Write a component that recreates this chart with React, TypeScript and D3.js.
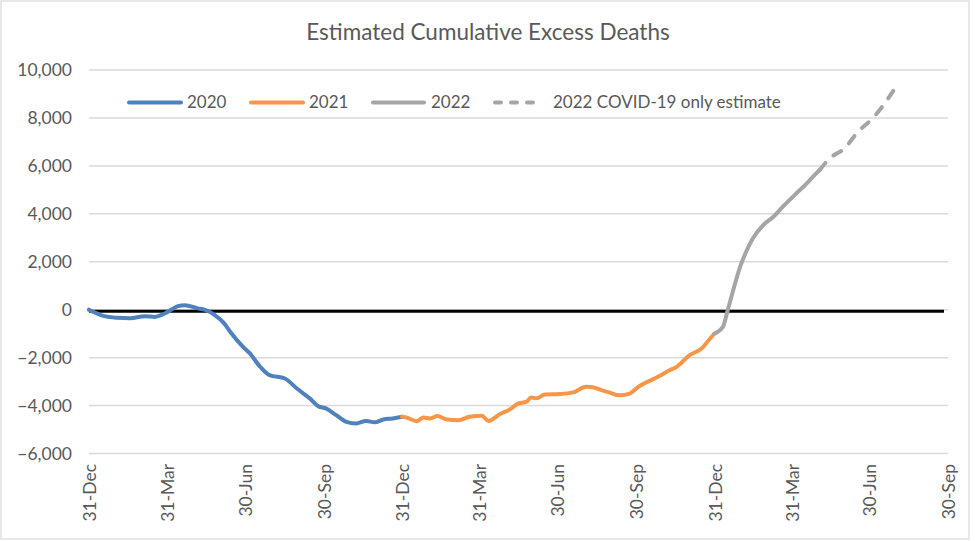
import React, { useEffect } from "react";
import * as d3 from "d3";

// values, [date, cumulative excess deaths]
const series2020: [string, number][] = [
  ["2019-12-31", 0],
  ["2020-01-18", -270],
  ["2020-02-02", -340],
  ["2020-02-17", -360],
  ["2020-03-05", -270],
  ["2020-03-17", -300],
  ["2020-03-29", -150],
  ["2020-04-13", 150],
  ["2020-04-21", 190],
  ["2020-05-06", 55],
  ["2020-05-14", 0],
  ["2020-05-26", -225],
  ["2020-06-06", -570],
  ["2020-06-13", -920],
  ["2020-06-28", -1550],
  ["2020-07-06", -1825],
  ["2020-07-18", -2380],
  ["2020-07-29", -2730],
  ["2020-08-16", -2870],
  ["2020-08-30", -3290],
  ["2020-09-14", -3700],
  ["2020-09-24", -4025],
  ["2020-10-03", -4120],
  ["2020-10-15", -4400],
  ["2020-10-27", -4680],
  ["2020-11-07", -4750],
  ["2020-11-19", -4640],
  ["2020-11-29", -4700],
  ["2020-12-09", -4580],
  ["2020-12-20", -4540],
  ["2020-12-31", -4470],
];

const series2021: [string, number][] = [
  ["2020-12-31", -4470],
  ["2021-01-05", -4500],
  ["2021-01-17", -4650],
  ["2021-01-25", -4500],
  ["2021-02-02", -4540],
  ["2021-02-10", -4440],
  ["2021-02-21", -4580],
  ["2021-03-07", -4610],
  ["2021-03-20", -4470],
  ["2021-04-03", -4430],
  ["2021-04-11", -4640],
  ["2021-04-24", -4360],
  ["2021-05-06", -4160],
  ["2021-05-16", -3910],
  ["2021-05-25", -3850],
  ["2021-05-31", -3660],
  ["2021-06-06", -3700],
  ["2021-06-16", -3540],
  ["2021-07-03", -3520],
  ["2021-07-19", -3450],
  ["2021-08-03", -3220],
  ["2021-08-11", -3240],
  ["2021-08-19", -3330],
  ["2021-08-30", -3450],
  ["2021-09-11", -3570],
  ["2021-09-23", -3500],
  ["2021-10-03", -3220],
  ["2021-10-12", -3040],
  ["2021-10-26", -2800],
  ["2021-11-09", -2520],
  ["2021-11-17", -2380],
  ["2021-12-02", -1900],
  ["2021-12-16", -1620],
  ["2021-12-26", -1200],
  ["2021-12-31", -1000],
];

const series2022: [string, number][] = [
  ["2021-12-31", -1000],
  ["2022-01-10", -710],
  ["2022-01-15", -90],
  ["2022-01-22", 820],
  ["2022-01-30", 1790],
  ["2022-02-07", 2490],
  ["2022-02-14", 2980],
  ["2022-02-26", 3530],
  ["2022-03-10", 3880],
  ["2022-03-21", 4300],
  ["2022-04-06", 4860],
  ["2022-04-14", 5130],
  ["2022-04-29", 5690],
  ["2022-05-03", 5830],
];

const seriesEstimate: [string, number][] = [
  ["2022-05-03", 5830],
  ["2022-05-15", 6320],
  ["2022-06-01", 6730],
  ["2022-06-17", 7430],
  ["2022-07-04", 7990],
  ["2022-07-18", 8610],
  ["2022-07-30", 9240],
];

const xTicks = [
  "2019-12-31", "2020-03-31", "2020-06-30", "2020-09-30",
  "2020-12-31", "2021-03-31", "2021-06-30", "2021-09-30",
  "2021-12-31", "2022-03-31", "2022-06-30", "2022-09-30",
];
const yTicks = [-6000, -4000, -2000, 0, 2000, 4000, 6000, 8000, 10000];

const legendItems = [
  { label: "2020", color: "#4F81BD", dashed: false },
  { label: "2021", color: "#F79646", dashed: false },
  { label: "2022", color: "#A5A5A5", dashed: false },
  { label: "2022 COVID-19 only estimate", color: "#A5A5A5", dashed: true },
];

const W = 976;
const H = 541;
const FONT = "Lato, 'Open Sans', sans-serif";
const TEXT = "#595959";

const parse = d3.timeParse("%Y-%m-%d");

export default function App() {
  useEffect(() => {
    document.body.style.margin = "0";
  }, []);

  const x = d3
    .scaleTime()
    .domain([parse(xTicks[0])!, parse(xTicks[xTicks.length - 1])!])
    .range([89, 948]);
  const y = d3.scaleLinear().domain([-6000, 10000]).range([453.5, 70]);

  const line = d3
    .line<[string, number]>()
    .x((d) => x(parse(d[0])!))
    .y((d) => y(d[1]))
    .curve(d3.curveMonotoneX);

  const fmt = d3.format(",");
  const tickFmt = d3.timeFormat("%d-%b");

  // legend layout: sample start, sample end, text start
  const legendPos = [
    [127, 183, 187],
    [249, 305, 309],
    [371, 426, 431],
    [493, 537, 553],
  ];
  const legendY = 102.5;

  return (
    <svg width={W} height={H} style={{ display: "block", background: "#fff" }}>
      <rect x={1} y={1} width={968} height={538} fill="#fff" stroke="#d9d9d9" strokeWidth={1.2} />
      <text
        x={488}
        y={40}
        textAnchor="middle"
        fontFamily={FONT}
        fontSize={22.5}
        fill={TEXT}
      >
        Estimated Cumulative Excess Deaths
      </text>

      {yTicks.map((t) => (
        <g key={t}>
          <line x1={89} x2={948} y1={y(t)} y2={y(t)} stroke="#d9d9d9" strokeWidth={1.5} />
          <text
            x={72}
            y={y(t)}
            dy="0.35em"
            textAnchor="end"
            fontFamily={FONT}
            fontSize={17.5}
            fill={TEXT}
          >
            {fmt(t)}
          </text>
        </g>
      ))}

      {xTicks.map((t) => {
        const xx = x(parse(t)!) + 1;
        return (
          <text
            key={t}
            transform={`translate(${xx},464) rotate(-90)`}
            dy="0.35em"
            textAnchor="end"
            fontFamily={FONT}
            fontSize={17.5}
            fill={TEXT}
          >
            {tickFmt(parse(t)!)}
          </text>
        );
      })}

      <line x1={89} x2={944} y1={y(0) + 1.5} y2={y(0) + 1.5} stroke="#000" strokeWidth={3} />

      <path d={line(series2020)!} fill="none" stroke="#4F81BD" strokeWidth={4} strokeLinejoin="round" strokeLinecap="round" />
      <path d={line(series2021)!} fill="none" stroke="#F79646" strokeWidth={4} strokeLinejoin="round" strokeLinecap="round" />
      <path d={line(series2022)!} fill="none" stroke="#A5A5A5" strokeWidth={4} strokeLinejoin="round" strokeLinecap="round" />
      <path
        d={line(seriesEstimate)!}
        fill="none"
        stroke="#A5A5A5"
        strokeWidth={4}
        strokeLinecap="round"
        strokeDasharray="9 11"
      />

      {legendItems.map((it, i) => {
        const [x1, x2, tx] = legendPos[i];
        return (
          <g key={it.label}>
            <line
              x1={x1 + 2}
              x2={x2 - 2}
              y1={legendY}
              y2={legendY}
              stroke={it.color}
              strokeWidth={4}
              strokeLinecap="round"
              strokeDasharray={it.dashed ? "6 10" : undefined}
            />
            <text
              x={tx}
              y={legendY}
              dy="0.35em"
              fontFamily={FONT}
              fontSize={17}
              fill={TEXT}
            >
              {it.label}
            </text>
          </g>
        );
      })}
    </svg>
  );
}
